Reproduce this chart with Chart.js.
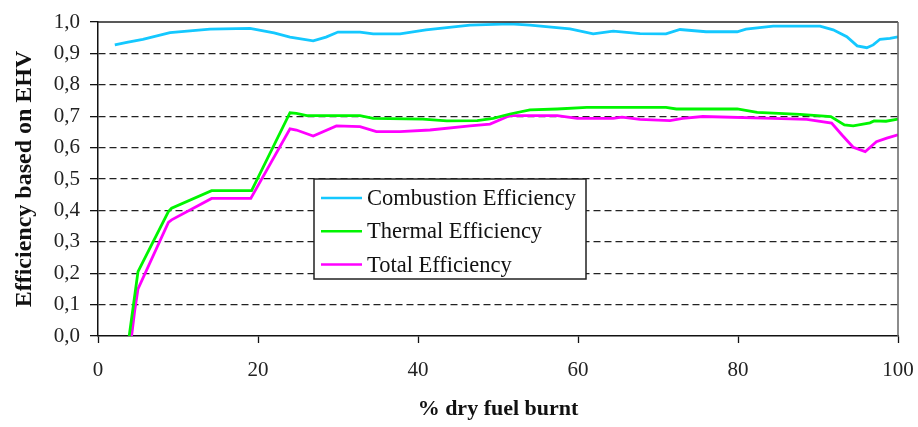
<!DOCTYPE html>
<html>
<head>
<meta charset="utf-8">
<script src="https://cdn.jsdelivr.net/npm/chart.js@4.4.1/dist/chart.umd.min.js"></script>
<style>
  html, body { margin: 0; padding: 0; background: #fff; }
  canvas { display: block; }
</style>
</head>
<body>
<canvas id="effChart" width="918" height="427"></canvas>
<script>
// data
var seriesNames = ["Combustion Efficiency", "Thermal Efficiency", "Total Efficiency"];
var seriesColors = ["#14c8ff", "#00f500", "#ff00ff"];

var combustionX = [2.1, 3.6, 5.6, 9, 14, 19, 22, 24, 26.9, 28.5, 30, 32.75, 34.4, 37.75, 41, 46.5, 51.5, 54, 59, 61.9, 64.4, 67.75, 71, 72.75, 76, 79.9, 81, 84.4, 90.25, 91.9, 93.6, 94.9, 96.1, 96.9, 97.75, 99, 100];
var combustionY = [0.927, 0.935, 0.945, 0.966, 0.977, 0.98, 0.965, 0.952, 0.94, 0.952, 0.968, 0.968, 0.962, 0.962, 0.975, 0.99, 0.994, 0.99, 0.978, 0.962, 0.971, 0.963, 0.962, 0.976, 0.969, 0.969, 0.977, 0.987, 0.987, 0.975, 0.953, 0.924, 0.918, 0.927, 0.945, 0.948, 0.953];

var thermalX = [3.9, 4.4, 5.0, 8.8, 9.2, 14.2, 19.2, 24, 24.8, 26.1, 32.75, 34.4, 40.6, 43.6, 47.4, 49.4, 51.5, 54, 57.4, 61.1, 71, 72.3, 79.9, 82.4, 87.75, 91.6, 93.3, 94.4, 96.5, 97, 98.5, 100];
var thermalY = [0, 0.093, 0.205, 0.396, 0.407, 0.463, 0.463, 0.711, 0.709, 0.702, 0.702, 0.693, 0.691, 0.685, 0.686, 0.693, 0.707, 0.72, 0.723, 0.728, 0.728, 0.723, 0.723, 0.712, 0.706, 0.699, 0.672, 0.669, 0.679, 0.685, 0.684, 0.691];

var totalX = [4.2, 4.6, 5.0, 8.8, 9.2, 14.2, 19.1, 24, 24.8, 26.9, 29.8, 32.75, 34.8, 37.75, 41.5, 46.5, 49, 51.5, 57.4, 59.9, 64.4, 65.5, 67.75, 71.5, 73.1, 75.6, 84.4, 88.6, 91.7, 93, 94.4, 95.9, 97.3, 98.6, 100];
var totalY = [0, 0.083, 0.15, 0.362, 0.37, 0.438, 0.438, 0.66, 0.656, 0.637, 0.669, 0.667, 0.651, 0.651, 0.656, 0.669, 0.675, 0.702, 0.702, 0.693, 0.693, 0.697, 0.69, 0.686, 0.693, 0.699, 0.693, 0.69, 0.678, 0.64, 0.601, 0.587, 0.619, 0.63, 0.641];

var yTickLabels = ["0,0", "0,1", "0,2", "0,3", "0,4", "0,5", "0,6", "0,7", "0,8", "0,9", "1,0"];
var xTickLabels = ["0", "20", "40", "60", "80", "100"];

var serif = "'Liberation Serif', 'Times New Roman', serif";

function toPoints(xs, ys) {
    return xs.map(function (x, i) { return { x: x, y: ys[i] }; });
}

// frame: solid top line and grey right line
var framePlugin = {
    id: "frame",
    afterDraw: function (chart) {
        var a = chart.chartArea;
        var ctx = chart.ctx;
        ctx.save();
        ctx.lineWidth = 1.5;
        ctx.strokeStyle = "#222";
        ctx.beginPath();
        ctx.moveTo(a.left, a.top);
        ctx.lineTo(a.right, a.top);
        ctx.stroke();
        ctx.strokeStyle = "#666";
        ctx.beginPath();
        ctx.moveTo(a.right, a.top);
        ctx.lineTo(a.right, a.bottom);
        ctx.stroke();
        ctx.restore();
    }
};

// boxed legend inside the plot
var boxLegend = {
    id: "boxLegend",
    afterDatasetsDraw: function (chart) {
        var ctx = chart.ctx;
        var bx = 314, by = 179, bw = 272, bh = 100;
        ctx.save();
        ctx.fillStyle = "#fff";
        ctx.fillRect(bx, by, bw, bh);
        ctx.lineWidth = 1.5;
        ctx.strokeStyle = "#222";
        ctx.strokeRect(bx, by, bw, bh);
        ctx.font = "22.5px " + serif;
        ctx.textBaseline = "middle";
        ctx.textAlign = "left";
        chart.data.datasets.forEach(function (ds, i) {
            var y = by + 19 + i * 33.3;
            ctx.strokeStyle = ds.borderColor;
            ctx.lineWidth = 2.5;
            ctx.beginPath();
            ctx.moveTo(bx + 7, y);
            ctx.lineTo(bx + 48, y);
            ctx.stroke();
            ctx.fillStyle = "#111";
            ctx.fillText(ds.label, bx + 53, y + 1);
        });
        ctx.restore();
    }
};

var chart = new Chart(document.getElementById("effChart").getContext("2d"), {
    type: "line",
    data: {
        datasets: [
            { label: seriesNames[0], data: toPoints(combustionX, combustionY), borderColor: seriesColors[0] },
            { label: seriesNames[1], data: toPoints(thermalX, thermalY), borderColor: seriesColors[1] },
            { label: seriesNames[2], data: toPoints(totalX, totalY), borderColor: seriesColors[2] }
        ]
    },
    options: {
        responsive: false,
        animation: false,
        elements: {
            line: { borderWidth: 2.8, tension: 0, fill: false },
            point: { radius: 0 }
        },
        layout: { padding: { top: 22, right: 20, left: 0, bottom: 0 } },
        plugins: {
            legend: { display: false },
            tooltip: { enabled: false }
        },
        scales: {
            x: {
                type: "linear",
                min: 0,
                max: 100,
                afterFit: function (s) {
                    s.height = 91;
                    s.paddingLeft = 0;
                    s.paddingRight = 0;
                },
                ticks: {
                    stepSize: 20,
                    maxRotation: 0,
                    padding: 15,
                    color: "#222",
                    font: { family: serif, size: 21 },
                    callback: function (v, i) { return xTickLabels[i]; }
                },
                grid: { drawOnChartArea: false, drawTicks: true, tickLength: 7, tickColor: "#111", tickWidth: 1.3 },
                border: { display: true, color: "#111", width: 1.5 },
                title: {
                    display: true,
                    text: "% dry fuel burnt",
                    color: "#111",
                    font: { family: serif, size: 22, weight: "bold" },
                    padding: { top: 0, bottom: 4 }
                }
            },
            y: {
                min: 0,
                max: 1,
                afterFit: function (s) {
                    s.width = 98;
                    s.paddingTop = 0;
                    s.paddingBottom = 0;
                },
                ticks: {
                    stepSize: 0.1,
                    padding: 10,
                    color: "#222",
                    font: { family: serif, size: 21 },
                    callback: function (v, i) { return yTickLabels[i]; }
                },
                grid: {
                    drawTicks: true,
                    tickLength: 8,
                    tickColor: "#111",
                    tickWidth: 1.3,
                    lineWidth: 1.3,
                    color: function (c) {
                        if (!c.tick) return "#222";
                        var v = Math.round(c.tick.value * 10);
                        return (v === 0 || v === 10) ? "rgba(0,0,0,0)" : "#222";
                    }
                },
                border: { display: true, color: "#111", width: 1.5, dash: [7, 4] },
                title: {
                    display: true,
                    text: "Efficiency based on EHV",
                    color: "#111",
                    font: { family: serif, size: 24, weight: "bold" },
                    padding: { top: 10, bottom: 0 }
                }
            }
        }
    },
    plugins: [framePlugin, boxLegend]
});
</script>
</body>
</html>
